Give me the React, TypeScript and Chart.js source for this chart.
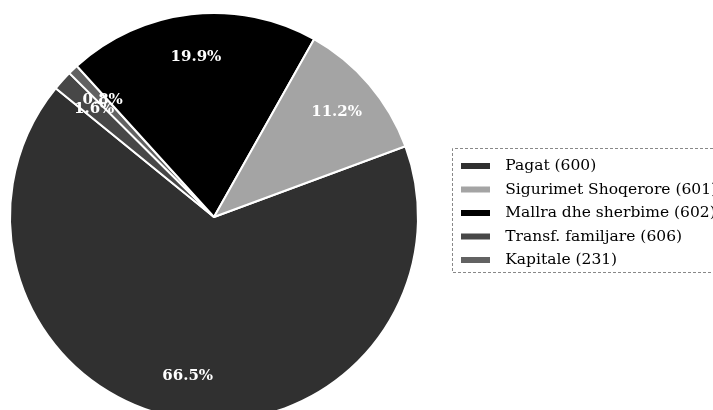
import React, { useEffect, useRef } from 'react';
import { Chart, registerables } from 'chart.js';

Chart.register(...registerables);

// Slices in clockwise drawing order (as they appear in the pie)
const categories = [
  'Pagat (600)',
  'Transf. familjare (606)',
  'Kapitale (231)',
  'Mallra dhe sherbime (602)',
  'Sigurimet Shoqerore (601)',
];
const shares = [66.5, 1.6, 0.8, 19.9, 11.2];
const sliceColors = ['#303030', '#474747', '#626262', '#000000', '#a4a4a4'];
// Order in which the legend lists the categories
const legendRank = [0, 3, 4, 2, 1];
const startAngleDeg = 69.7;

const BOX_W = 36.5;
const SWATCH_W = 29;
const LEGEND_PAD = 8;
const PIE_LEFT = -25;

const decorPlugin = {
  id: 'decor',
  afterLayout(chart: any) {
    const ca = chart.chartArea;
    ca.left = PIE_LEFT;
    ca.width = ca.right - ca.left;
    const lg = chart.legend;
    if (!lg) return;
    lg.top -= 4;
    lg.bottom -= 4;
    lg.right = chart.width + 60;
  },
  beforeDraw(chart: any) {
    const lg = chart.legend;
    if (!lg || !lg.legendItems) return;
    const ctx = chart.ctx;
    const x0 = lg.left + LEGEND_PAD;
    const stop = SWATCH_W / BOX_W;
    lg.legendItems.forEach((item: any) => {
      const c = sliceColors[item.index];
      const g = ctx.createLinearGradient(x0, 0, x0 + BOX_W, 0);
      g.addColorStop(0, c);
      g.addColorStop(stop, c);
      g.addColorStop(Math.min(1, stop + 0.001), 'rgba(255,255,255,0)');
      g.addColorStop(1, 'rgba(255,255,255,0)');
      item.fillStyle = g;
      item.strokeStyle = 'rgba(0,0,0,0)';
      item.lineWidth = 0;
    });
  },
  afterDatasetsDraw(chart: any) {
    const ctx = chart.ctx;
    const meta = chart.getDatasetMeta(0);
    ctx.save();
    ctx.fillStyle = '#ffffff';
    ctx.font = 'bold 15px "DejaVu Serif"';
    ctx.textAlign = 'center';
    ctx.textBaseline = 'middle';
    meta.data.forEach((arc: any, i: number) => {
      const p = arc.getProps(['x', 'y', 'startAngle', 'endAngle', 'outerRadius'], true);
      const mid = (p.startAngle + p.endAngle) / 2;
      const r = p.outerRadius * 0.79;
      ctx.fillText(shares[i].toFixed(1) + '%', p.x + Math.cos(mid) * r, p.y + Math.sin(mid) * r);
    });
    ctx.restore();
  },
  afterDraw(chart: any) {
    const lg = chart.legend;
    if (!lg || !lg.legendHitBoxes || !lg.legendHitBoxes.length) return;
    const hb = lg.legendHitBoxes;
    const first = hb[0];
    const last = hb[hb.length - 1];
    const top = Math.round(first.top - 10) + 0.5;
    const bottom = Math.round(last.top + last.height + 4) + 0.5;
    const left = Math.round(lg.left - 1) + 0.5;
    const ctx = chart.ctx;
    ctx.save();
    ctx.strokeStyle = '#888888';
    ctx.lineWidth = 1;
    ctx.setLineDash([3, 2]);
    ctx.beginPath();
    ctx.moveTo(chart.width + 5, top);
    ctx.lineTo(left, top);
    ctx.lineTo(left, bottom);
    ctx.lineTo(chart.width + 5, bottom);
    ctx.stroke();
    ctx.restore();
  },
};

export default function App() {
  const ref = useRef<HTMLCanvasElement | null>(null);

  useEffect(() => {
    if (!ref.current) return;
    const chart = new Chart(ref.current, {
      type: 'pie',
      data: {
        labels: categories,
        datasets: [
          {
            data: shares,
            backgroundColor: sliceColors,
            borderColor: '#ffffff',
            borderWidth: 2,
          },
        ],
      },
      options: {
        responsive: false,
        animation: false,
        rotation: startAngleDeg,
        layout: { padding: { left: 0, right: 60, top: 12, bottom: 8 } },
        plugins: {
          legend: {
            position: 'right',
            align: 'center',
            maxWidth: 200,
            labels: {
              boxWidth: BOX_W,
              boxHeight: 6,
              padding: LEGEND_PAD,
              color: '#000000',
              font: { family: 'DejaVu Serif', size: 15.5 },
              sort: (a: any, b: any) => legendRank[a.index] - legendRank[b.index],
            },
          },
          tooltip: { enabled: false },
        },
      } as any,
      plugins: [decorPlugin as any],
    });
    return () => chart.destroy();
  }, []);

  return (
    <div
      style={{
        position: 'fixed',
        left: 0,
        top: 0,
        width: 713,
        height: 410,
        overflow: 'hidden',
        background: '#ffffff',
      }}
    >
      <canvas ref={ref} width={713} height={430} style={{ display: 'block' }} />
    </div>
  );
}
